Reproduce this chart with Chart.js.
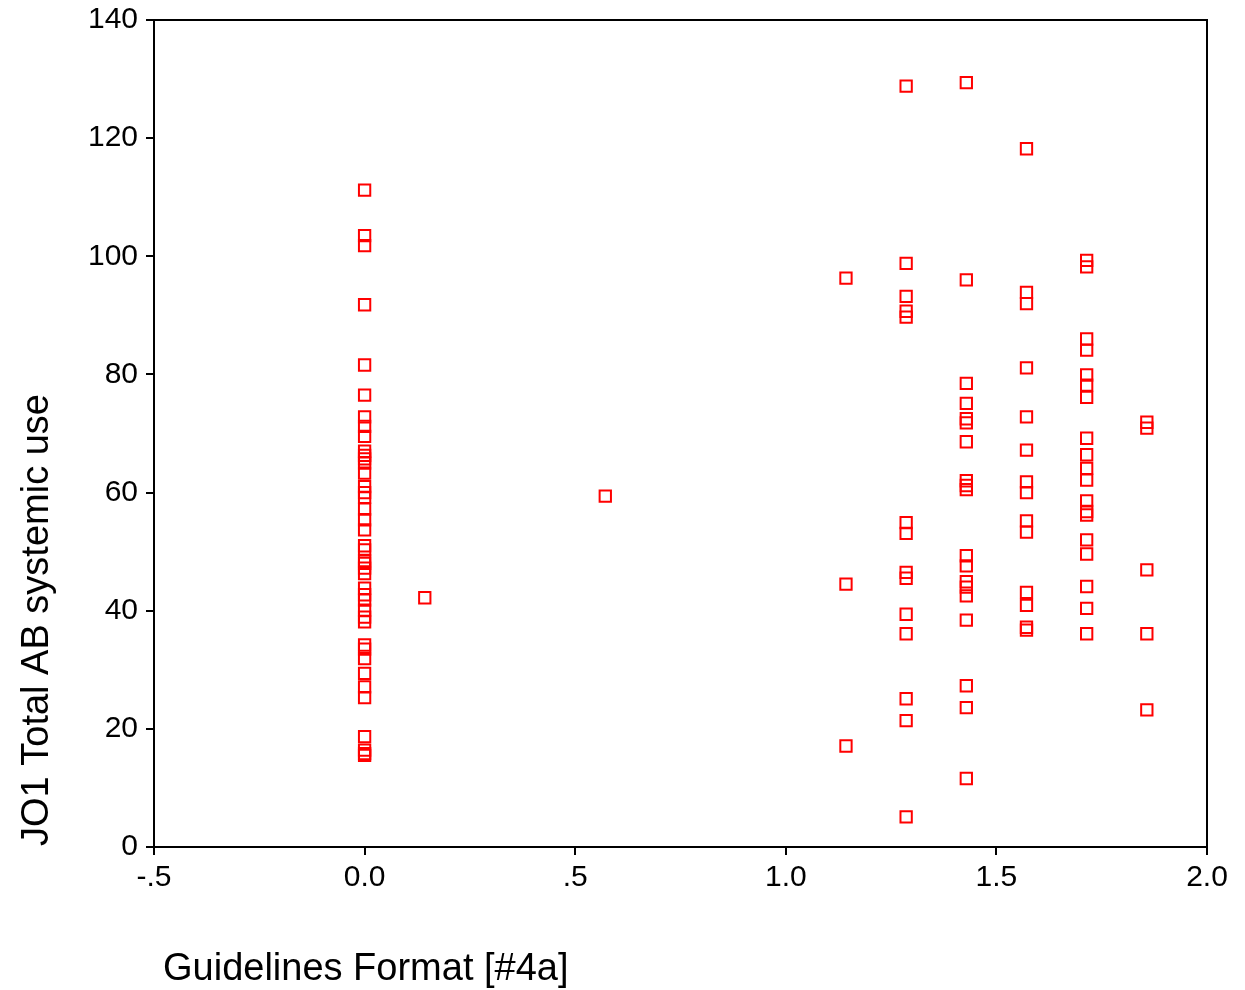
<!DOCTYPE html>
<html>
<head>
<meta charset="utf-8">
<script src="https://cdn.jsdelivr.net/npm/chart.js@4.4.1/dist/chart.umd.min.js"></script>
<style>
  html, body { margin: 0; padding: 0; background: #fff; }
  #wrap { width: 1245px; height: 990px; }
</style>
</head>
<body>
<div id="wrap"><canvas id="myChart" width="1245" height="990"></canvas></div>
<script>
// x positions of the columns (Guidelines Format)
const formatValues = [0, 1 / 7, 4 / 7, 8 / 7, 9 / 7, 10 / 7, 11 / 7, 12 / 7, 13 / 7];

// JO1 Total AB systemic use, one list per column
const use0 = [111.2, 103.5, 101.8, 91.8, 81.6, 76.5, 72.8, 71.2, 69.5, 67, 66.3, 65.7, 65, 63.3, 61, 60,
  59.2, 57.2, 55.4, 53.7, 51, 50.3, 48.5, 48, 47.2, 46.3, 43.8, 42.7, 41.8, 40.1, 38.9, 38.1,
  34.2, 33.5, 31.9, 29.4, 27.1, 25.3, 18.7, 16.4, 15.8, 15.5];
const use1 = [42.2];
const use4 = [59.4];
const use8 = [96.3, 44.5, 17.1];
const use9 = [128.8, 98.8, 93.2, 90.7, 89.7, 54.9, 53.1, 46.5, 45.5, 39.4, 36.1, 25.1, 21.4, 5.1];
const use10 = [129.4, 96, 78.5, 75.1, 72.5, 71.8, 68.6, 62, 61.2, 60.5, 49.3, 47.6, 44.9, 44, 42.5,
  38.4, 27.3, 23.6, 11.6];
const use11 = [118.2, 93.9, 92, 81.1, 72.8, 67.2, 61.8, 60, 55.2, 53.3, 43.1, 40.9, 37.2, 36.7];
const use12 = [99.3, 98.2, 86, 84.1, 79.9, 78.2, 76.1, 69.2, 66.4, 64.1, 62.1, 58.6, 56.8, 56.2,
  52, 49.6, 44.1, 40.4, 36.1];
const use13 = [71.9, 70.9, 46.9, 36.1, 23.2];
const useByColumn = [use0, use1, use4, use8, use9, use10, use11, use12, use13];

const xTicks = [-0.5, 0, 0.5, 1, 1.5, 2];
const xTickLabels = ['-.5', '0.0', '.5', '1.0', '1.5', '2.0'];
const yTicks = [0, 20, 40, 60, 80, 100, 120, 140];

const points = [];
useByColumn.forEach((list, i) => {
  list.forEach(v => points.push({ x: formatValues[i], y: v }));
});

const FONT = 'Liberation Sans, Arial, sans-serif';

// box round the plot + axis titles
const framePlugin = {
  id: 'frame',
  afterDraw(chart) {
    const ctx = chart.ctx;
    const a = chart.chartArea;
    ctx.save();
    ctx.strokeStyle = '#000';
    ctx.lineWidth = 2;
    ctx.strokeRect(a.left, a.top, a.right - a.left, a.bottom - a.top);
    ctx.fillStyle = '#000';
    ctx.font = '38px ' + FONT;
    ctx.textBaseline = 'middle';
    ctx.textAlign = 'left';
    ctx.fillText('Guidelines Format [#4a]', 163, 970);
    ctx.translate(38, 620);
    ctx.rotate(-Math.PI / 2);
    ctx.textAlign = 'center';
    ctx.fillText('JO1 Total AB systemic use', 0, 0);
    ctx.restore();
  }
};

const config = {
  type: 'scatter',
  data: {
    datasets: [{
      data: points,
      pointStyle: 'rect',
      pointRadius: 8,
      pointHoverRadius: 8,
      borderColor: '#ff0000',
      backgroundColor: 'rgba(0,0,0,0)',
      borderWidth: 2
    }]
  },
  options: {
    responsive: false,
    animation: false,
    layout: { padding: { left: 0, right: 38, top: 20, bottom: 0 } },
    plugins: { legend: { display: false }, tooltip: { enabled: false } },
    scales: {
      x: {
        type: 'linear',
        min: -0.5,
        max: 2,
        afterBuildTicks(scale) { scale.ticks = xTicks.map(v => ({ value: v })); },
        afterFit(scale) { scale.height = 143; scale.paddingLeft = 0; scale.paddingRight = 0; },
        grid: { drawOnChartArea: false, drawTicks: true, tickLength: 8, color: '#000', lineWidth: 2 },
        border: { display: false },
        ticks: {
          color: '#000',
          font: { family: FONT, size: 30 },
          padding: 5,
          maxRotation: 0,
          callback: (v) => xTickLabels[xTicks.indexOf(v)]
        }
      },
      y: {
        type: 'linear',
        min: 0,
        max: 140,
        afterBuildTicks(scale) { scale.ticks = yTicks.map(v => ({ value: v })); },
        afterFit(scale) { scale.width = 154; scale.paddingTop = 0; scale.paddingBottom = 0; },
        grid: { drawOnChartArea: false, drawTicks: true, tickLength: 8, color: '#000', lineWidth: 2 },
        border: { display: false },
        ticks: {
          color: '#000',
          font: { family: FONT, size: 30 },
          padding: 8
        }
      }
    }
  },
  plugins: [framePlugin]
};

const myChart = new Chart(document.getElementById('myChart'), config);
</script>
</body>
</html>
